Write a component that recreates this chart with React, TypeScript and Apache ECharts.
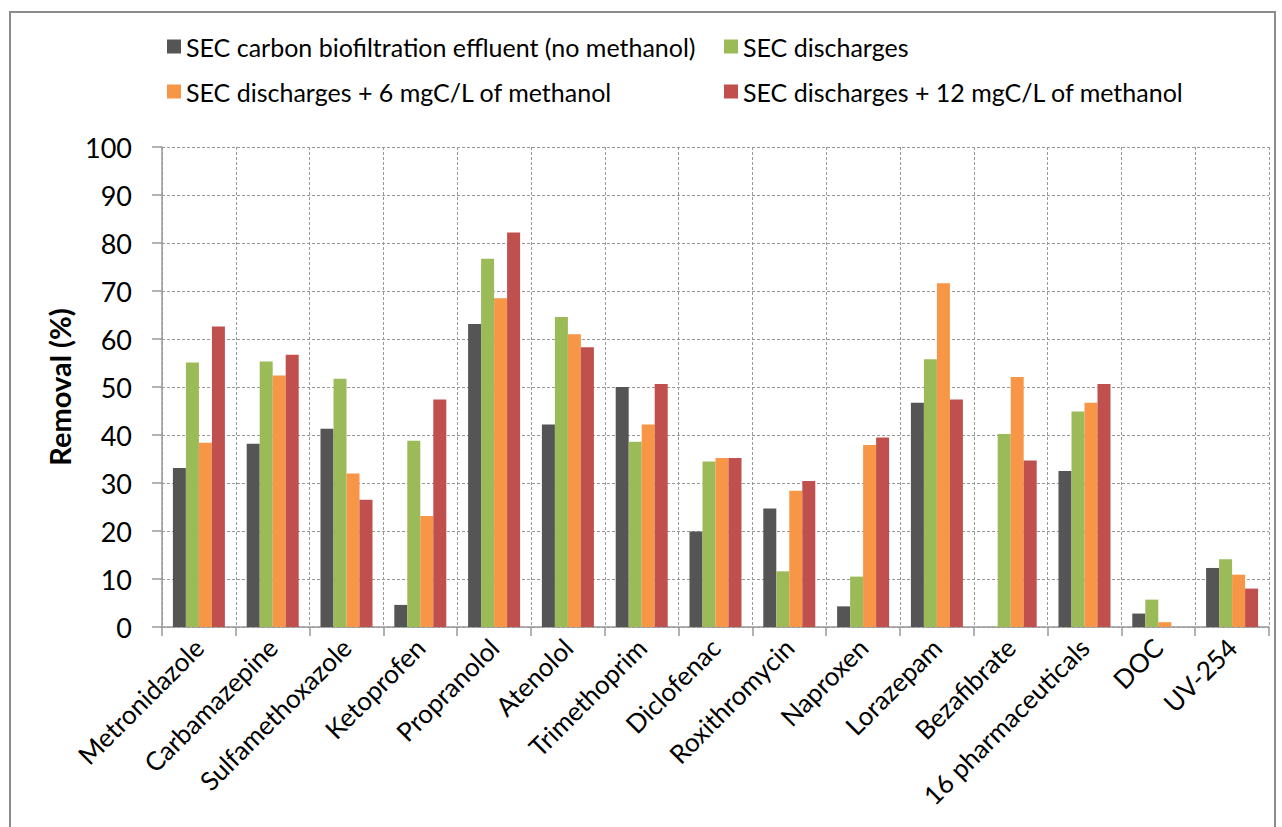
import React, { useEffect, useRef } from "react";
import * as echarts from "echarts";

const categories = [
  "Metronidazole",
  "Carbamazepine",
  "Sulfamethoxazole",
  "Ketoprofen",
  "Propranolol",
  "Atenolol",
  "Trimethoprim",
  "Diclofenac",
  "Roxithromycin",
  "Naproxen",
  "Lorazepam",
  "Bezafibrate",
  "16 pharmaceuticals",
  "DOC",
  "UV-254",
];

const seriesNames = [
  "SEC carbon biofiltration effluent (no methanol)",
  "SEC discharges",
  "SEC discharges + 6 mgC/L of methanol",
  "SEC discharges + 12 mgC/L of methanol",
];

const noMethanol = [33.1, 38.2, 41.3, 4.6, 63.1, 42.2, 50.0, 19.9, 24.7, 4.3, 46.7, 0, 32.5, 2.8, 12.3];
const discharges = [55.1, 55.3, 51.7, 38.8, 76.7, 64.6, 38.6, 34.5, 11.6, 10.5, 55.8, 40.2, 44.9, 5.7, 14.1];
const methanol6 = [38.4, 52.4, 32.0, 23.1, 68.5, 61.0, 42.2, 35.2, 28.4, 37.9, 71.6, 52.1, 46.7, 1.0, 10.9];
const methanol12 = [62.6, 56.7, 26.5, 47.4, 82.2, 58.3, 50.6, 35.2, 30.4, 39.5, 47.4, 34.7, 50.6, 0, 8.0];

const colors = ["#555555", "#9BBB59", "#F79646", "#C0504D"];
const yTicks = { min: 0, max: 100, interval: 10 };
const FONT = "Lato, 'Noto Sans', sans-serif";

export default function App() {
  const ref = useRef<HTMLDivElement>(null);
  useEffect(() => {
    if (!ref.current) return;
    const chart = echarts.init(ref.current, undefined, { renderer: "svg" });
    const values = [noMethanol, discharges, methanol6, methanol12];
    const legendPos = [
      { left: 167, top: 34 },
      { left: 724, top: 34 },
      { left: 167, top: 79 },
      { left: 724, top: 79 },
    ];
    chart.setOption({
      animation: false,
      backgroundColor: "#ffffff",
      textStyle: { fontFamily: FONT },
      graphic: [
        {
          type: "rect",
          shape: { x: 10, y: 12, width: 1265, height: 840 },
          style: { fill: "none", stroke: "#8c8c8c", lineWidth: 2 },
          silent: true,
        },
      ],
      legend: seriesNames.map((name, i) => ({
        data: [name],
        left: legendPos[i].left,
        top: legendPos[i].top,
        padding: 0,
        itemWidth: 14,
        itemHeight: 14,
        itemGap: 6,
        icon: "rect",
        selectedMode: false,
        textStyle: { fontFamily: FONT, fontSize: 25, color: "#000", padding: [0, 0, 0, 0] },
      })),
      grid: { left: 162, right: 13, top: 147, bottom: 200, containLabel: false },
      xAxis: {
        type: "category",
        data: categories,
        boundaryGap: true,
        axisLine: { show: true, lineStyle: { color: "#999999", width: 1.5 } },
        axisTick: { show: true, length: 9, alignWithLabel: false, lineStyle: { color: "#999999", width: 1.5 } },
        splitLine: { show: true, lineStyle: { color: "#999999", type: [3, 2], width: 1 } },
        axisLabel: {
          rotate: 45,
          interval: 0,
          margin: 16,
          fontFamily: FONT,
          fontSize: 26,
          color: "#000",
        },
      },
      yAxis: {
        type: "value",
        min: yTicks.min,
        max: yTicks.max,
        interval: yTicks.interval,
        name: "Removal (%)",
        nameLocation: "middle",
        nameRotate: 90,
        nameGap: 88,
        nameTextStyle: { fontFamily: FONT, fontSize: 29, fontWeight: "bold", color: "#000" },
        axisLine: { show: true, lineStyle: { color: "#999999", width: 1.5 } },
        axisTick: { show: true, length: 10, inside: false, lineStyle: { color: "#999999", width: 1.5 } },
        splitLine: { show: true, lineStyle: { color: "#999999", type: [3, 2], width: 1 } },
        axisLabel: { margin: 30, fontFamily: FONT, fontSize: 27, color: "#000" },
      },
      series: seriesNames.map((name, i) => ({
        name,
        type: "bar",
        data: values[i],
        barWidth: 13,
        barGap: "0%",
        itemStyle: { color: colors[i] },
      })),
    });
    return () => chart.dispose();
  }, []);
  return (
    <div
      ref={ref}
      style={{ position: "fixed", left: 0, top: 0, width: 1282, height: 827, background: "#fff" }}
    />
  );
}
